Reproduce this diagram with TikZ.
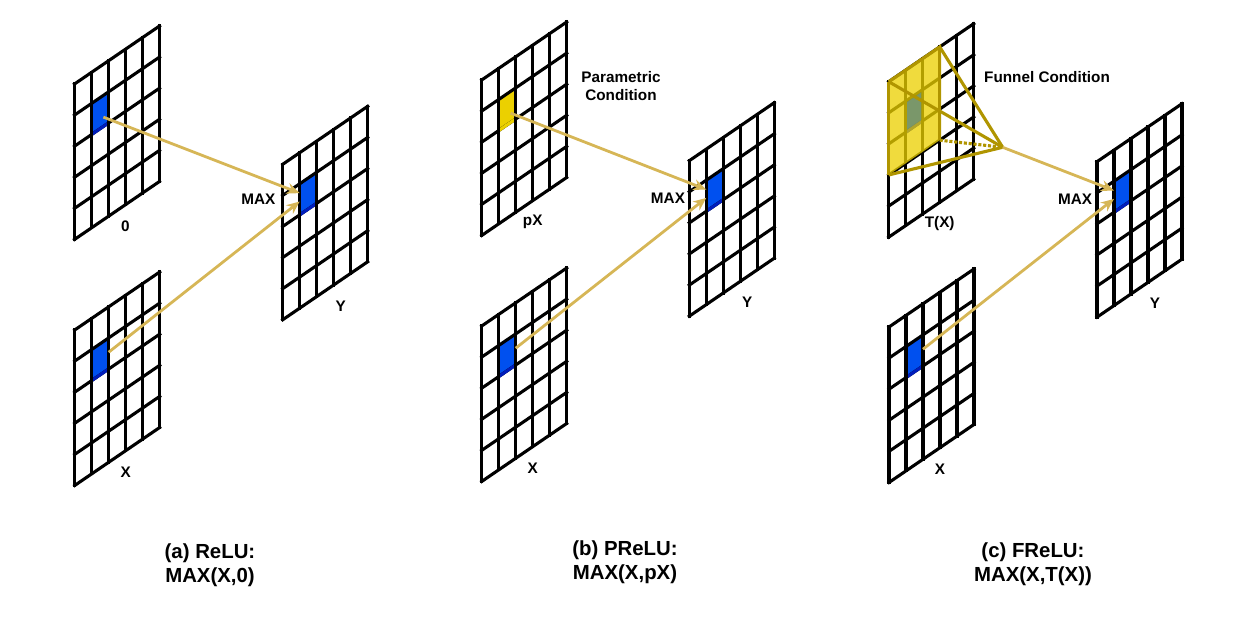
\documentclass[tikz,border=0pt]{standalone}
\usepackage{fontspec}
\setmainfont{Liberation Sans}
\usetikzlibrary{arrows.meta,positioning}
\definecolor{mapBlue}{HTML}{0050EF}
\definecolor{mapBlueDark}{HTML}{001DBC}
\definecolor{mapYellow}{HTML}{EBD000}
\definecolor{mapOlive}{HTML}{B09500}
\definecolor{mapSage}{HTML}{2870B4}
\definecolor{arrGold}{HTML}{D6B656}
\begin{document}
\begin{tikzpicture}[
  x=0.02cm, y=-0.02cm,
  lbl/.style={font=\fontsize{8.7pt}{10.4pt}\selectfont\bfseries, align=center, inner sep=0pt},
  capt/.style={font=\fontsize{11.6pt}{13.7pt}\selectfont\bfseries, align=center, inner sep=0pt},
  arr/.style={-{Stealth[length=0.26cm,width=0.22cm]}, arrGold, line width=0.056cm},
  funnel/.style={mapOlive, line width=0.062cm},
  pics/featuremap/.style 2 args={code={
    \begin{scope}[x={(0.34cm,0.232cm)}, y={(0cm,-0.622cm)}, line width=0.062cm]
      \fill[#1] (1,1) -- (2,1) -- (2,2) -- (1,2) -- cycle;
      \foreach \i in {0,...,5} \draw[line cap=rect] (0,\i) -- (5,\i);
      \draw[#2] (1,2) -- (2,2);
      \foreach \i in {0,...,5} \draw[line cap=rect] (\i,0) -- (\i,5);
      \coordinate (-src) at (1.7,1.7);
      \coordinate (-out) at (2,1.46);
      \coordinate (-in1) at (1,1.3);
      \coordinate (-in2) at (1,1.57);
      \coordinate (-foot) at (3,5.68);
      \coordinate (-nw) at (0,0);
      \coordinate (-ne) at (3,0);
      \coordinate (-sw) at (0,3);
      \coordinate (-se) at (3,3);
      \coordinate (-hota) at (1.08,1.05);
      \coordinate (-hotb) at (1.92,1.05);
      \coordinate (-hotc) at (1.92,1.95);
      \coordinate (-hotd) at (1.08,1.95);
    \end{scope}
  }}
]
\useasboundingbox (0,0) rectangle (1245,618);
% (a) ReLU
\pic (zero) at (74.5,84)  {featuremap={mapBlue}{mapBlueDark}};
\pic (xa)   at (74.7,330) {featuremap={mapBlue}{mapBlueDark}};
\pic (ya)   at (282.7,164.3) {featuremap={mapBlue}{mapBlueDark}};
\node[lbl] (lzero) at (zero-foot) {0};
\node[lbl] (lxa)   at (xa-foot) {X};
\node[lbl, xshift=0.14cm] (lya) at (ya-foot) {Y};
\node[lbl, left=0.48cm of ya-in1, yshift=-0.12cm] (maxa) {MAX};
\draw[arr] (zero-src) -- (ya-in1);
\draw[arr] (xa-out) -- (ya-in2);
\node[capt] (capa) at (210,565) {(a) ReLU:\\MAX(X,0)};
% (b) PReLU
\pic (px) at (481.7,80)  {featuremap={mapYellow}{mapYellow}};
\pic (xb) at (481.7,326) {featuremap={mapBlue}{mapBlueDark}};
\pic (yb) at (689.3,160.7) {featuremap={mapBlue}{mapBlueDark}};
\node[lbl] (lpx) at (px-foot) {pX};
\node[lbl] (lxb) at (xb-foot) {X};
\node[lbl, xshift=0.14cm] (lyb) at (yb-foot) {Y};
\node[lbl, left=0.42cm of yb-in1, yshift=-0.17cm] (maxb) {MAX};
\node[lbl] (par) at (621,86) {Parametric\\Condition};
\draw[arr] (px-src) -- (yb-in1);
\draw[arr] (xb-out) -- (yb-in2);
\node[capt] (capb) at (625,562.5) {(b) PReLU:\\MAX(X,pX)};
% (c) FReLU
\pic (tx) at (888.7,81.7) {featuremap={mapBlue}{mapBlueDark}};
\pic (xc) at (889,327)    {featuremap={mapBlue}{mapBlueDark}};
\pic (yc) at (1097,161.7) {featuremap={mapBlue}{mapBlueDark}};
\node[lbl] (ltx) at (tx-foot) {T(X)};
\node[lbl] (lxc) at (xc-foot) {X};
\node[lbl, xshift=0.14cm] (lyc) at (yc-foot) {Y};
\node[lbl, left=0.43cm of yc-in1, yshift=-0.17cm] (maxc) {MAX};
\node[lbl] (fun) at (1047,77) {Funnel Condition};
\coordinate (apex) at (1002.7,147.3);
\fill[mapYellow, fill opacity=0.76] (tx-nw) -- (tx-ne) -- (tx-se) -- (tx-sw) -- cycle;
\fill[mapSage, fill opacity=0.4] (tx-hota) -- (tx-hotb) -- (tx-hotc) -- (tx-hotd) -- cycle;
\draw[funnel] (tx-nw) -- (tx-ne) -- (tx-se);
\draw[funnel] (tx-nw) -- (tx-sw);
\draw[funnel, densely dotted] (tx-se) -- (apex);
\draw[funnel] (tx-nw) -- (apex);
\draw[funnel] (tx-ne) -- (apex);
\draw[funnel] (tx-sw) -- (apex);
\draw[arr] (apex) -- (yc-in1);
\draw[arr] (xc-out) -- (yc-in2);
\node[capt] (capc) at (1033,564) {(c) FReLU:\\MAX(X,T(X))};
\end{tikzpicture}
\end{document}
